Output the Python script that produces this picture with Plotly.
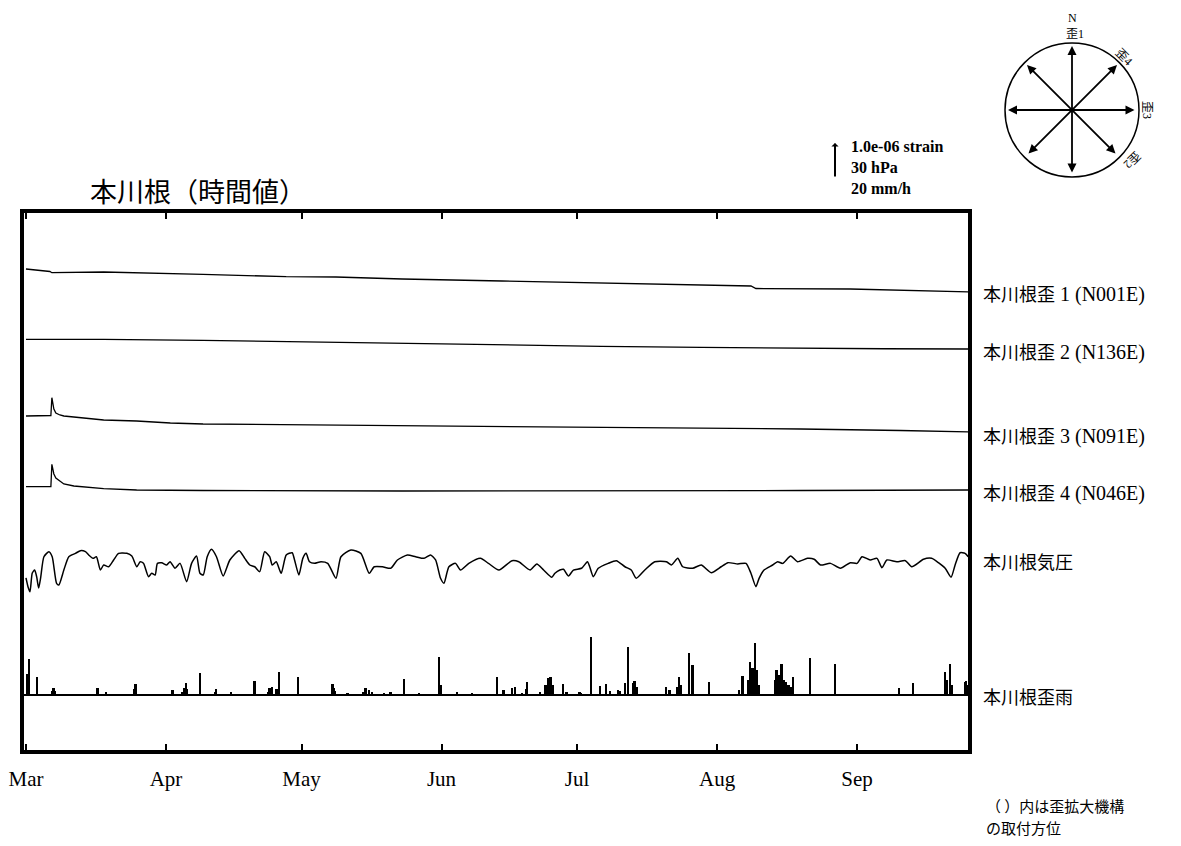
import pandas as pd
import plotly.graph_objects as go

# ---------------- data ----------------
START = pd.Timestamp("2023-03-01")

month_labels = ["Mar", "Apr", "May", "Jun", "Jul", "Aug", "Sep"]

# strain traces: day offset from Mar 1, change in units of 1e-6 strain
strain1_day = [0, 5.29, 5.73, 17.2, 39.2, 57.6, 68.6, 83.3, 105.4, 127.4, 149.5, 160.5, 161.6, 182.5, 209.0]
strain1_val = [0, -0.071, -0.106, -0.086, -0.151, -0.220, -0.229, -0.286, -0.343, -0.400, -0.457, -0.486, -0.557, -0.571, -0.657]

strain2_day = [0, 17.2, 39.2, 61.3, 83.3, 105.4, 127.4, 149.5, 171.5, 190.0, 209.0]
strain2_val = [0, 0.0, -0.03, -0.077, -0.126, -0.16, -0.2, -0.23, -0.257, -0.27, -0.277]

strain3_day = [0, 5.51, 5.73, 6.17, 6.61, 7.50, 8.38, 12.8, 17.2, 24.5, 31.96, 39.2, 54.0, 68.6, 83.3, 105.4, 127.4, 149.5, 171.5, 193.6, 209.0]
strain3_val = [0, 0.014, 0.523, 0.20, 0.086, 0.029, 0.0, -0.057, -0.114, -0.143, -0.20, -0.229, -0.243, -0.257, -0.286, -0.30, -0.314, -0.343, -0.371, -0.414, -0.457]

strain4_day = [0, 5.51, 5.73, 6.17, 6.61, 7.50, 8.38, 10.6, 12.8, 17.2, 24.5, 39.2, 83.3, 127.4, 171.5, 209.0]
strain4_val = [0, 0.006, 0.64, 0.363, 0.249, 0.149, 0.077, 0.02, -0.009, -0.057, -0.094, -0.109, -0.123, -0.123, -0.109, -0.094]

# pressure (hPa)
pres_day = [0, 0.44, 0.88, 1.39, 1.92, 2.36, 2.80, 3.24, 3.97, 5.07, 5.80, 6.77, 7.28, 8.38, 9.48, 10.96,
            12.06, 13.16, 13.89, 14.84, 15.59, 16.47, 17.20, 18.30, 19.40, 20.50, 22.33, 23.43, 24.54, 25.29,
            26.01, 27.12, 27.84, 28.59, 29.10, 30.05, 31.15, 31.90, 33.00, 34.11, 35.56, 36.66, 37.76, 38.51,
            39.24, 40.12, 41.07, 42.17, 43.65, 45.13, 47.18, 48.43, 49.54, 50.64, 51.74, 52.84, 53.95, 54.52,
            55.40, 56.50, 57.61, 58.93, 59.46, 60.41, 61.29, 62.02, 62.76, 63.87, 65.32, 66.80, 68.63, 69.73,
            71.94, 74.14, 75.99, 77.09, 78.92, 80.75, 82.23, 84.44, 86.27, 88.12, 89.57, 90.68, 91.78, 92.53,
            93.63, 95.09, 96.19, 98.04, 100.6, 102.4, 104.7, 107.6, 109.1, 111.6, 113.1, 114.6, 116.4, 117.1,
            118.2, 119.0, 120.1, 121.2, 123.0, 124.3, 124.8, 125.6, 126.7, 128.9, 130.7, 132.6, 134.0, 135.1,
            137.0, 139.2, 141.8, 142.9, 144.3, 145.4, 147.6, 149.5, 151.7, 153.9, 155.4, 157.6, 159.4, 160.5,
            161.6, 162.3, 163.4, 165.3, 166.4, 167.5, 169.3, 170.8, 173.0, 174.5, 175.9, 178.1, 180.3, 182.5,
            184.0, 185.1, 186.9, 188.4, 189.5, 190.6, 192.8, 194.7, 196.1, 198.7, 200.5, 202.0, 203.5, 204.8,
            205.7, 206.8, 207.9, 208.6]
pres_hpa = [998.9, 991.4, 987.1, 1003.1, 1005.7, 1000.0, 990.3, 998.9, 1017.1, 1021.4, 1017.1, 994.3, 992.9, 1005.7, 1017.1, 1020.0,
            1022.3, 1021.4, 1018.6, 1015.7, 1017.1, 1005.7, 1010.0, 1008.5, 1014.3, 1020.0, 1020.0, 1017.7, 1008.5, 1012.8,
            1011.4, 1000.0, 1002.9, 1001.4, 1011.4, 1011.9, 1010.0, 1012.8, 1007.2, 1011.4, 995.7, 1011.4, 1017.7, 1002.9,
            1001.4, 1017.1, 1023.5, 1017.1, 1000.6, 1014.3, 1022.3, 1015.7, 1010.0, 1008.5, 1004.3, 1021.4, 1017.1, 1010.0,
            1012.8, 1002.9, 1018.6, 1020.5, 1014.3, 1001.4, 1015.7, 1020.0, 1012.8, 1011.4, 1012.8, 1011.4, 998.6, 1017.1,
            1022.9, 1020.0, 1002.9, 1008.5, 1008.5, 1007.2, 1014.3, 1018.6, 1017.1, 1015.7, 1018.6, 1014.3, 998.6, 994.3,
            1008.5, 1011.4, 1005.7, 1011.4, 1015.7, 1011.4, 1005.7, 1013.7, 1012.8, 1005.7, 1010.9, 1005.7, 999.5, 1002.9,
            1005.7, 1006.3, 1000.6, 1005.7, 1007.2, 1012.8, 1008.5, 1000.0, 1007.2, 1011.4, 1013.7, 1008.5, 1005.7, 998.6,
            1005.7, 1012.8, 1012.8, 1010.0, 1015.7, 1008.5, 1007.2, 1010.0, 1003.4, 1008.5, 1012.0, 1010.9, 1011.4, 1002.9,
            991.4, 998.6, 1005.7, 1010.0, 1012.8, 1011.4, 1017.7, 1012.8, 1015.7, 1014.9, 1010.0, 1011.4, 1007.2, 1012.0,
            1011.4, 1017.1, 1014.3, 1015.7, 1007.7, 1014.3, 1012.8, 1013.7, 1008.5, 1014.9, 1015.7, 1012.0, 1007.2, 999.5,
            1010.0, 1020.5, 1020.0, 1017.1]

# rain (mm/h)
rain_day = [0.3, 0.66, 2.49, 5.95, 6.17, 6.39, 15.87, 17.79, 24.1, 24.32, 32.47, 34.6, 35.05, 35.43, 35.7,
            38.65, 41.9, 42.17, 45.48, 50.64, 53.6, 53.95, 54.52, 55.5, 56.0, 60.34, 67.9, 68.2, 68.5, 71.2,
            74.7, 75.24, 75.99, 76.7, 79.3, 80.75, 83.71, 87.0, 91.42, 92.0, 95.46, 98.8, 104.4, 105.8,
            107.6, 108.3, 109.8, 110.7, 111.0, 113.8, 115.1, 115.7, 116.2, 116.6, 119.0, 119.7, 122.6, 123.0,
            125.2, 127.1, 128.5, 129.3, 131.1, 131.6, 132.6, 133.4, 134.4, 134.8, 135.2, 141.8, 142.5, 144.2,
            144.7, 145.1, 146.9, 147.6, 151.3, 157.9, 158.7, 159.9, 160.3, 160.9, 161.4, 161.8, 162.3, 166.0,
            166.2, 166.7, 167.3, 167.8, 168.2, 168.6, 168.9, 169.3, 169.8, 173.7, 179.1, 193.3, 196.5, 203.5, 203.9,
            204.6, 205.0, 207.9, 208.2, 208.5]
rain_mm = [12.0, 20.4, 10.1, 2.3, 3.8, 2.3, 3.8, 1.9, 3.4, 6.3, 2.9, 1.7, 3.8, 7.0, 3.4,
           12.7, 1.7, 3.3, 1.9, 7.8, 2.0, 3.8, 4.7, 3.4, 13.0, 10.5, 6.3, 4.0, 2.3, 1.0,
           2.0, 3.8, 2.9, 1.9, 1.1, 1.7, 9.1, 1.0, 21.9, 5.7, 1.9, 1.1, 10.5, 2.9,
           3.8, 4.7, 1.1, 3.4, 7.6, 1.9, 5.7, 9.5, 10.1, 5.7, 6.3, 1.7, 1.9, 1.4,
           33.0, 5.1, 6.3, 2.3, 2.9, 2.3, 7.0, 27.6, 6.9, 8.2, 4.6, 4.7, 2.9, 4.6,
           10.5, 5.7, 24.2, 17.1, 7.4, 2.9, 10.9, 8.6, 19.0, 15.3, 29.9, 14.3, 5.7, 8.6,
           14.3, 11.4, 17.7, 8.6, 7.6, 4.6, 5.7, 4.6, 10.5, 21.0, 17.7, 3.8, 7.0, 13.3, 8.6,
           17.7, 5.7, 7.4, 8.2, 5.7]

labels = ["本川根歪 1 (N001E)", "本川根歪 2 (N136E)", "本川根歪 3 (N091E)",
          "本川根歪 4 (N046E)", "本川根気圧", "本川根歪雨"]
scale_texts = ["1.0e-06 strain", "30 hPa", "20 mm/h"]
title_text = "本川根（時間値）"
note_lines = ["（ ）内は歪拡大機構", "の取付方位"]

# ---------------- layout constants (page pixels) ----------------
WIN_W, WIN_H = 1181, 846
PAGE = 8                      # default body margin of the html page
W, H = WIN_W - 2 * PAGE, WIN_H - 2 * PAGE
L, R, T, B = 24, 968, 213, 750
PW, PH = R - L, B - T
UNIT_PX = 35.0                # length of the scale arrow
PX_PER_DAY = 4.536
STRAIN_UNIT = 1.0             # 1.0e-06 strain per unit
PRES_UNIT = 30.0              # hPa per unit
RAIN_UNIT = 20.0              # mm/h per unit
PRES_REF = 1010.0
X0_DAY = -(L - 22) / PX_PER_DAY
X1_DAY = (R - 22) / PX_PER_DAY


def py(ypx):
    return (B - ypx) / UNIT_PX


off = {"s1": py(269), "s2": py(339.3), "s3": py(416), "s4": py(486.7), "p": py(565), "r": py(695)}


def d2t(days):
    return [START + pd.Timedelta(days=float(d)) for d in days]


def px(x):
    return (x - L) / PW


def pyp(y):
    return (B - y) / PH


fig = go.Figure()
line_style = dict(color="black", width=1.3)
for dd, vv, k in [(strain1_day, strain1_val, "s1"), (strain2_day, strain2_val, "s2"),
                  (strain3_day, strain3_val, "s3"), (strain4_day, strain4_val, "s4")]:
    fig.add_trace(go.Scatter(x=d2t(dd), y=[off[k] + v / STRAIN_UNIT for v in vv],
                             mode="lines", line=line_style, showlegend=False))
fig.add_trace(go.Scatter(x=d2t(pres_day), y=[off["p"] + (p - PRES_REF) / PRES_UNIT for p in pres_hpa],
                         mode="lines", line=dict(color="black", width=1.5, shape="spline", smoothing=0.6),
                         showlegend=False))
fig.add_trace(go.Bar(x=d2t(rain_day), y=[m / RAIN_UNIT for m in rain_mm], base=off["r"],
                     width=0.4 * 86400000, marker=dict(color="black", line=dict(width=0)),
                     showlegend=False))

fig.add_shape(type="line", xref="paper", yref="y", x0=0, x1=1, y0=off["r"], y1=off["r"],
              line=dict(color="black", width=2))

serif = "Liberation Serif, Noto Sans CJK JP"
cjk = "Noto Sans CJK JP"
ann = []
label_y = [294, 352, 436, 493, 563, 698]
for t, yy in zip(labels, label_y):
    if "(" in t:
        head, tail = t.split(" ", 1)
        txt = head + "<span style='font-size:20px'> " + tail + "</span>"
    else:
        txt = t
    ann.append(dict(x=px(981), y=pyp(yy), xref="paper", yref="paper", text=txt, showarrow=False,
                    xanchor="left", yanchor="middle", font=dict(family=serif, size=18, color="black")))

ann.append(dict(x=px(88), y=pyp(190), xref="paper", yref="paper", text=title_text, showarrow=False,
                xanchor="left", yanchor="middle", font=dict(family=cjk, size=27, color="black")))

ann.append(dict(x=px(849), y=pyp(168), xref="paper", yref="paper",
                text="<br>".join("<b>" + t + "</b>" for t in scale_texts), align="left",
                showarrow=False, xanchor="left", yanchor="middle",
                font=dict(family="Liberation Serif", size=16, color="black")))
# scale arrow (length = one unit)
ann.append(dict(x=px(835), y=pyp(143), xref="paper", yref="paper", text="", showarrow=True,
                ax=0, ay=UNIT_PX, arrowhead=1, arrowsize=0.6, arrowwidth=2, arrowcolor="black"))

for t, yy in zip(note_lines, [805, 827]):
    ann.append(dict(x=px(984), y=pyp(yy), xref="paper", yref="paper", text=t,
                    showarrow=False, xanchor="left", yanchor="middle",
                    font=dict(family=cjk, size=15, color="black")))

# compass rose
cx, cy, rad = 1072, 110, 67
fig.add_shape(type="circle", xref="paper", yref="paper",
              x0=px(cx - rad), x1=px(cx + rad), y0=pyp(cy + rad), y1=pyp(cy - rad),
              line=dict(color="black", width=1.5))
ends = [((cx, cy - 64), (cx, cy + 64)), ((cx - 64, cy), (cx + 64, cy)),
        ((cx + 45, cy - 45), (cx - 45, cy + 45)), ((cx - 45, cy - 45), (cx + 45, cy + 45))]
for (x1, y1), (x2, y2) in ends:
    ann.append(dict(x=px(x1), y=pyp(y1), xref="paper", yref="paper", text="", showarrow=True,
                    ax=x2 - x1, ay=y2 - y1, arrowhead=2, arrowsize=1, arrowwidth=1.8,
                    arrowside="end+start", arrowcolor="black"))
for t, (x, y), ang in [("N", (1072, 18), 0), ("歪1", (1075, 34), 0), ("歪4", (1124, 57), 45),
                       ("歪3", (1147, 110), 90), ("歪2", (1132, 160), 135)]:
    ann.append(dict(x=px(x), y=pyp(y), xref="paper", yref="paper", text=t, showarrow=False,
                    textangle=ang, xanchor="center", yanchor="middle",
                    font=dict(family=serif, size=12, color="black")))

fig.update_layout(
    width=W, height=H,
    margin=dict(l=L - PAGE, r=(WIN_W - PAGE) - R, t=T - PAGE, b=(WIN_H - PAGE) - B, pad=0, autoexpand=False),
    paper_bgcolor="white", plot_bgcolor="white", bargap=0, annotations=ann,
    xaxis=dict(type="date", range=[START + pd.Timedelta(days=X0_DAY), START + pd.Timedelta(days=X1_DAY)],
               tickvals=pd.date_range(START, periods=len(month_labels), freq="MS"), ticktext=month_labels,
               ticks="inside", ticklen=6, tickwidth=1.5, automargin=False,
               tickcolor="black", showline=True, linewidth=4, linecolor="black", mirror="ticks",
               showgrid=False, zeroline=False, ticklabelstandoff=7,
               tickfont=dict(family="Liberation Serif", size=21, color="black")),
    yaxis=dict(range=[0, PH / UNIT_PX], showticklabels=False, ticks="", showgrid=False, automargin=False,
               zeroline=False, showline=True, linewidth=4, linecolor="black", mirror=True),
)
fig.write_html("out.html")
